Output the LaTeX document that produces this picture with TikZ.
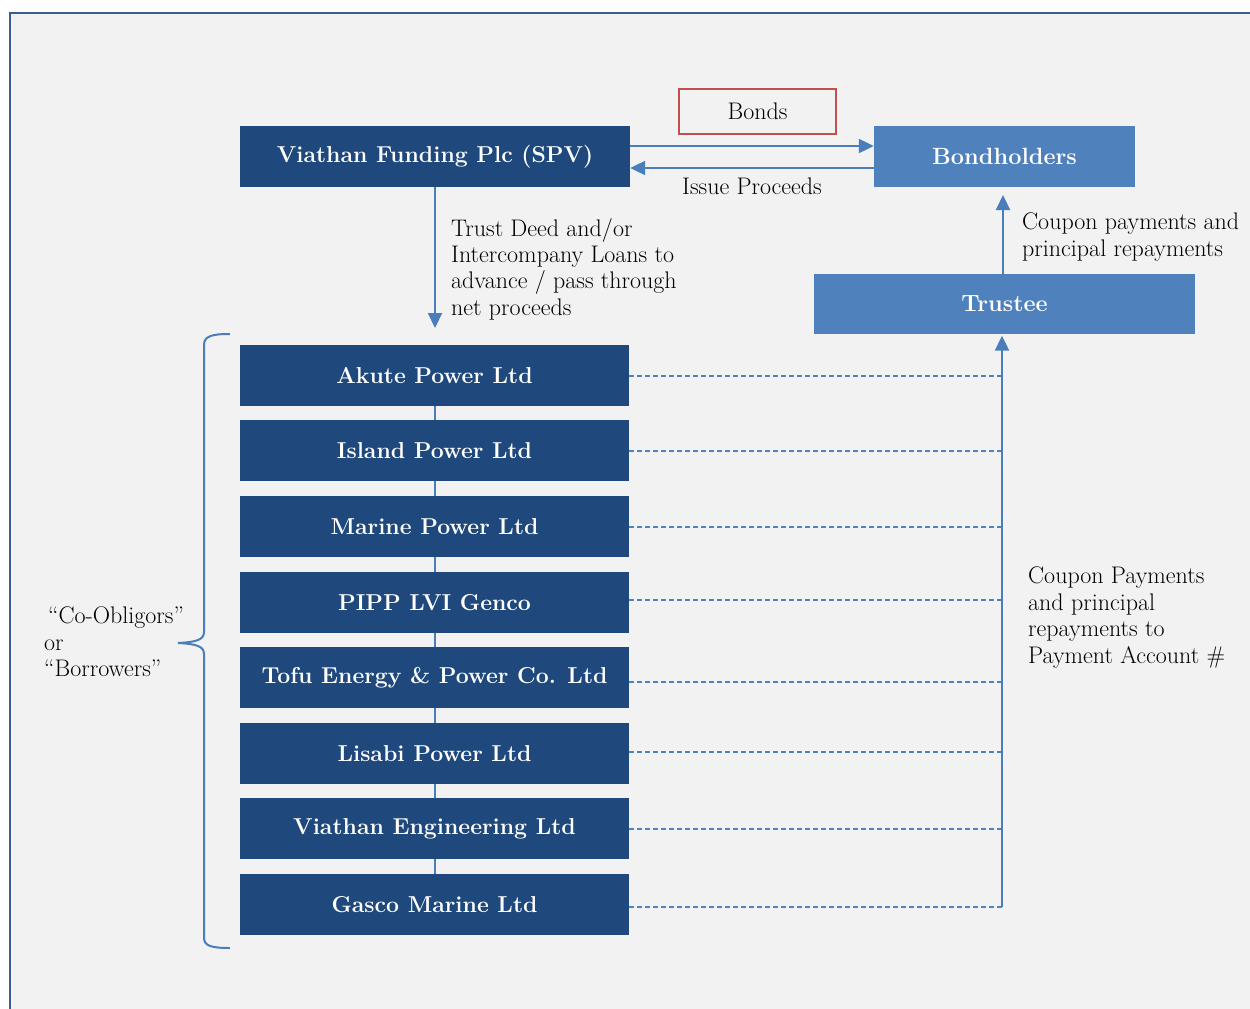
\documentclass[tikz,border=0pt]{standalone}
\usetikzlibrary{arrows.meta}
\definecolor{darkbox}{HTML}{1F497D}
\definecolor{lightbox}{HTML}{4F81BD}
\definecolor{arrowblue}{HTML}{4A7EBB}
\definecolor{redline}{HTML}{C0504D}
\definecolor{bgfill}{HTML}{F2F2F2}
\definecolor{framecol}{HTML}{3B5E91}
\begin{document}
\begin{tikzpicture}[x=1pt,y=-1pt,
  dbox/.style={rectangle, fill=darkbox, text=white, inner sep=0pt,
    minimum width=389pt, minimum height=61pt, font=\fontsize{23}{27}\selectfont\bfseries},
  lbox/.style={rectangle, fill=lightbox, text=white, inner sep=0pt,
    minimum height=61pt, font=\fontsize{23.5}{27}\selectfont\bfseries},
  lbl/.style={inner sep=0pt, align=left, font=\fontsize{24}{26.4}\selectfont},
  arr/.style={draw=arrowblue, line width=2.2pt, -{Triangle[length=15pt,width=14pt]}},
  link/.style={draw=arrowblue, line width=2pt},
  dashln/.style={draw=lightbox, line width=2pt, dash pattern=on 5pt off 3pt}
]
\useasboundingbox (0,0) rectangle (1250,1009);
\fill[white] (0,0) rectangle (1250,1009);
\path[fill=bgfill, draw=framecol, line width=2.8pt] (10,13) rectangle (1275,1035);

% top boxes
\node[dbox, minimum width=390pt] (spv) at (435,156.5) {Viathan Funding Plc (SPV)};
\node[lbox, minimum width=261pt] (bh) at (1004.5,156.5) {Bondholders};
\node[lbox, minimum width=381pt, minimum height=60pt] (tr) at (1004.5,304) {Trustee};
\node[draw=redline, line width=1.6pt, minimum width=157pt, minimum height=45pt, inner sep=0pt,
  font=\fontsize{24}{26}\selectfont] (bonds) at (757.5,111.5) {Bonds};

% borrowers
\node[dbox] (b1) at (434.5,375.5) {Akute Power Ltd};
\node[dbox] (b2) at (434.5,450.5) {Island Power Ltd};
\node[dbox] (b3) at (434.5,526.5) {Marine Power Ltd};
\node[dbox] (b4) at (434.5,602.5) {PIPP LVI Genco};
\node[dbox] (b5) at (434.5,677.5) {Tofu Energy \& Power Co. Ltd};
\node[dbox] (b6) at (434.5,753.5) {Lisabi Power Ltd};
\node[dbox] (b7) at (434.5,828.5) {Viathan Engineering Ltd};
\node[dbox] (b8) at (434.5,904.5) {Gasco Marine Ltd};

% links between borrowers
\foreach \a/\b in {b1/b2,b2/b3,b3/b4,b4/b5,b5/b6,b6/b7,b7/b8}
  \draw[link] (\a.south) -- (\b.north);

% dashed lines to payment line
\foreach \i/\y in {1/376,2/451,3/527,4/600,5/682,6/752,7/829,8/907}
  \coordinate (d\i) at (1002,\y);
\foreach \i in {1,...,8}
  \draw[dashln] (b\i.east |- d\i) -- (d\i);

% arrow up to trustee
\draw[arr] (d8) -- ([yshift=-1.5pt]d8 |- tr.south);

% trustee to bondholders
\coordinate (tt) at (1003,274);
\coordinate (bt) at (1003,195);
\draw[arr] (tt) -- (bt);

% SPV <-> bondholders
\coordinate (ya) at (0,146);
\coordinate (yb) at (0,168);
\draw[arr] (spv.east |- ya) -- (bh.west |- ya);
\draw[arr] (bh.west |- yb) -- (spv.east |- yb);

% SPV down to borrowers
\coordinate (dn) at (435,328);
\draw[arr] (spv.south) -- (dn);

% labels
\node[lbl] (ip) at (752,186) {Issue Proceeds};
\node[lbl, anchor=north west] (td) at (451,218) {Trust Deed and/or\\Intercompany Loans to\\advance / pass through\\net proceeds};
\node[lbl, anchor=north west] (cp) at (1022,213) {Coupon payments and\\principal repayments};
\node[lbl, anchor=north west] (pa) at (1028,567) {Coupon Payments\\and principal\\repayments to\\Payment Account \#};
\node[lbl, anchor=north west] (co) at (44,607) {\hspace{4pt}``Co-Obligors''\\or\\``Borrowers''};

% brace
\draw[draw=arrowblue, line width=2pt]
  (230,334) .. controls (212,334) and (204,336) .. (204,345)
  -- (204,632) .. controls (204,640) and (196,642) .. (178,643)
  .. controls (196,644) and (204,646) .. (204,654)
  -- (204,938) .. controls (204,946) and (212,948) .. (230,948);
\end{tikzpicture}
\end{document}
